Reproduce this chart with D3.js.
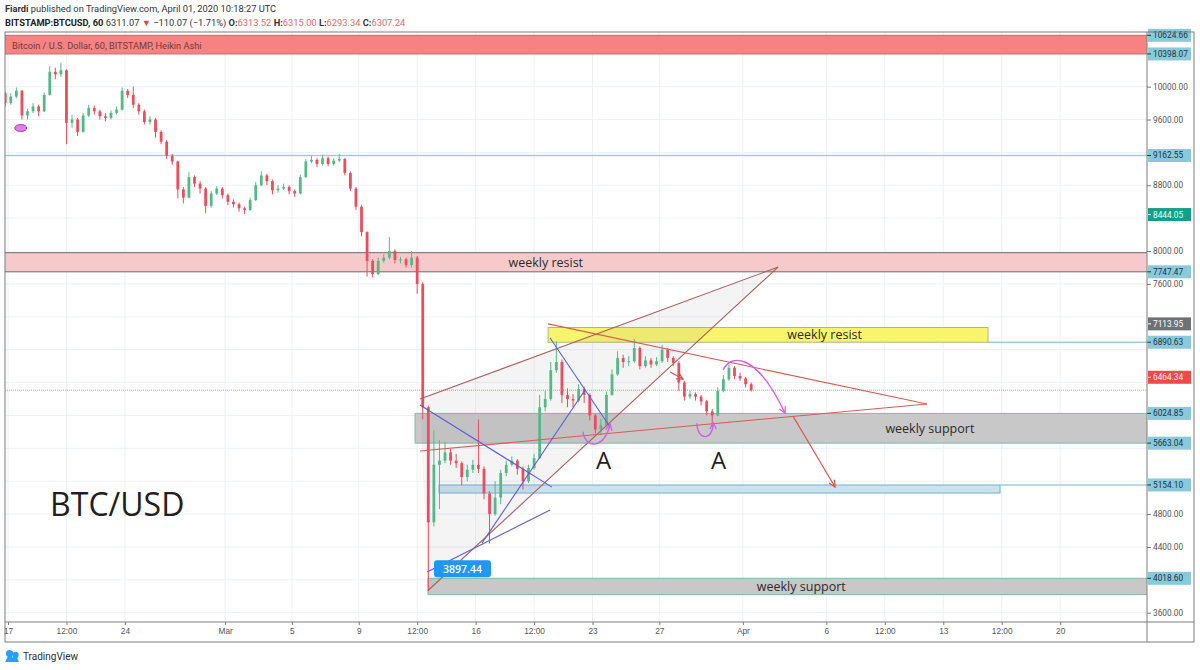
<!DOCTYPE html>
<html>
<head>
<meta charset="utf-8">
<script src="https://cdnjs.cloudflare.com/ajax/libs/d3/7.8.5/d3.min.js"></script>
<style>
  html, body { margin: 0; background: #fff; }
  svg { display: block; font-family: Roboto, "Noto Sans", sans-serif; }
</style>
</head>
<body>
<svg id="chart" width="1200" height="670"></svg>
<script>
// BTCUSD Heikin Ashi at 8h steps starting 2020-02-16 16:00 UTC
const firstOpen = 9920;
const closes = [
  9800, 9880, 9950, 9650, 9700, 9760, 9700, 9900, 10180, 10150,
  10200, 9560, 9600, 9450, 9650, 9740, 9700, 9640, 9620, 9680,
  9720, 9950, 9900, 9780, 9700, 9570, 9600, 9450, 9330, 9160,
  9090, 8750, 8650, 8900, 8820, 8760, 8550, 8700, 8760, 8680,
  8600, 8570, 8520, 8500, 8620, 8800, 8920, 8850, 8740, 8760,
  8780, 8730, 8700, 8900, 9090, 9110, 9060, 9130, 9060, 9100,
  9120, 8950, 8760, 8540, 8230, 7880, 7720, 7880, 7920, 8000,
  7890, 7900, 7830, 7920, 7600, 6100, 4700, 5400, 5450, 5550,
  5450, 5420, 5250, 5340, 5400, 5350, 5050, 4800, 5000, 5300,
  5400, 5450, 5350, 5200, 5360, 5480, 6100, 6200, 6550, 6650,
  6250, 6200, 6180, 6320, 6250, 6000, 5830, 5880, 6250, 6500,
  6700, 6650, 6660, 6820, 6600, 6670, 6620, 6660, 6800, 6700,
  6640, 6400, 6230, 6260, 6230, 6170, 6050, 6000, 6300, 6440,
  6580, 6480, 6450, 6380, 6307.24
];
const highs = [
  9940, 9920, 9990, 9960, 9730, 9800, 9780, 9930, 10250, 10230,
  10290, 10210, 9660, 9620, 9680, 9780, 9770, 9720, 9680, 9710,
  9760, 9990, 9970, 10000, 9800, 9720, 9640, 9620, 9470, 9350,
  9180, 9100, 8780, 8960, 8920, 8850, 8780, 8730, 8790, 8780,
  8700, 8630, 8590, 8540, 8650, 8840, 8970, 8940, 8870, 8800,
  8820, 8800, 8750, 8930, 9120, 9160, 9130, 9170, 9150, 9130,
  9180, 9130, 8970, 8780, 8560, 8240, 7900, 7920, 7960, 8170,
  8020, 7930, 7920, 8000, 7940, 7620, 6120, 5820, 5700, 5680,
  5600, 5530, 5440, 5400, 5460, 5950, 5380, 5080, 5200, 5340,
  5450, 5500, 5470, 5380, 5400, 5530, 6250, 6300, 6650, 6900,
  6680, 6330, 6260, 6380, 6350, 6270, 6020, 5960, 6290, 6560,
  6780, 6740, 6720, 6930, 6840, 6720, 6700, 6710, 6860, 6820,
  6720, 6660, 6420, 6300, 6280, 6250, 6190, 6080, 6340, 6490,
  6620, 6600, 6520, 6470, 6400
];
const lows = [
  9760, 9780, 9860, 9600, 9600, 9680, 9640, 9690, 9890, 10090,
  10120, 9300, 9500, 9400, 9440, 9630, 9660, 9600, 9580, 9600,
  9660, 9710, 9860, 9740, 9660, 9540, 9540, 9380, 9300, 9120,
  9050, 8640, 8580, 8640, 8780, 8700, 8460, 8530, 8680, 8640,
  8560, 8530, 8480, 8450, 8490, 8610, 8790, 8800, 8690, 8710,
  8740, 8690, 8660, 8690, 8890, 9070, 9020, 9040, 9030, 9040,
  9080, 8920, 8730, 8500, 8180, 7690, 7680, 7710, 7860, 7900,
  7850, 7850, 7800, 7800, 7480, 5950, 3860, 4650, 4860, 5420,
  5400, 5360, 5150, 5200, 5300, 5300, 4980, 4440, 4780, 4920,
  5260, 5380, 5280, 5100, 5180, 5340, 5470, 6050, 6180, 6520,
  6150, 6100, 6100, 6160, 6150, 5940, 5780, 5760, 5870, 6240,
  6480, 6580, 6600, 6640, 6560, 6580, 6580, 6600, 6640, 6650,
  6600, 6300, 6180, 6200, 6180, 6120, 6000, 5860, 5990, 6280,
  6420, 6440, 6420, 6340, 6290
];
const lastClose = 6307.24;

// drawings, times are days after 2020-02-17 00:00 UTC
const zones = [
  { from: -1,    to: 70,    top: 10624.66, bottom: 10398.07, kind: "red" },
  { from: -1,    to: 70,    top: 7980,     bottom: 7747.47,  kind: "pink",   label: "weekly resist",  labelAt: 32.2 },
  { from: 32.34, to: 58.68, top: 7070,     bottom: 6890.63,  kind: "yellow", label: "weekly resist",  labelAt: 48.9 },
  { from: 24.37, to: 70,    top: 6024.85,  bottom: 5663.04,  kind: "gray",   label: "weekly support", labelAt: 55.2 },
  { from: 25.81, to: 59.4,  top: 5154.10,  bottom: 5056,     kind: "blue" },
  { from: 25.15, to: 70,    top: 4018.60,  bottom: 3820,     kind: "gray",   label: "weekly support", labelAt: 47.5 }
];
const levelLines = [
  { price: 9162.55, from: -1 },
  { price: 6890.63, from: 58.68 },
  { price: 5154.10, from: 59.4 }
];
const wedge = [[24.67, 6200], [25.15, 3870], [46.11, 7805]];
const trendLines = [
  { kind: "brown", a: [24.67, 6200], b: [46.11, 7805] },
  { kind: "brown", a: [25.15, 3870], b: [46.11, 7805] },
  { kind: "red",   a: [32.34, 7114], b: [55.03, 6140] },
  { kind: "red",   a: [24.67, 5568], b: [55.03, 6140] },
  { kind: "blue",  a: [24.67, 6127], b: [32.57, 5128] },
  { kind: "blue",  a: [25.09, 4095], b: [32.46, 4850] },
  { kind: "blue",  a: [28.38, 4447], b: [34.55, 6310] },
  { kind: "blue",  a: [32.46, 6942], b: [36.05, 5860] }
];
const arrows = [
  { a: [47.0, 5993],  b: [49.52, 5130] },
  { a: [39.64, 6528], b: [40.42, 6443] }
];
const curves = [
  [[42.82, 6553], [43.23, 6736], [44.73, 6797], [46.53, 6026]],
  [[34.43, 5802], [34.55, 5590], [35.75, 5590], [36.05, 5896]],
  [[41.24, 5904], [41.3, 5687], [42.2, 5687], [42.23, 5912]]
];
const marker = { day: 0.76, price: 9497 };
const lowTag = { day: 25.15, price: 3897.44, text: "3897.44" };
const notes = [
  { text: "BTC/USD", day: 2.52, price: 4776, kind: "big" },
  { text: "A", day: 35.21, price: 5349, kind: "letter" },
  { text: "A", day: 42.1,  price: 5349, kind: "letter" }
];
const priceTags = [
  { price: 10624.66, kind: "level" },
  { price: 10398.07, kind: "level" },
  { price: 9162.55,  kind: "level" },
  { price: 8444.05,  kind: "green" },
  { price: 7747.47,  kind: "level" },
  { price: 7113.95,  kind: "gray" },
  { price: 6890.63,  kind: "level" },
  { price: 6464.34,  kind: "last" },
  { price: 6024.85,  kind: "level" },
  { price: 5663.04,  kind: "level" },
  { price: 5154.10,  kind: "level" },
  { price: 4018.60,  kind: "level" }
];
const priceTicks = d3.range(3600, 10800, 400);
const timeTicks = [
  [0, "17"], [3.5, "12:00"], [7, "24"], [13, "Mar"], [17, "5"], [21, "9"],
  [24.5, "12:00"], [28, "16"], [31.5, "12:00"], [35, "23"], [39, "27"],
  [44, "Apr"], [49, "6"], [52.5, "12:00"], [56, "13"], [59.5, "12:00"], [63, "20"]
];

const t0 = Date.UTC(2020, 1, 17);
const candleStart = Date.UTC(2020, 1, 16, 16);
const H8 = 8 * 3600e3;
function day(d) { return new Date(t0 + d * 864e5); }

const svg = d3.select("#chart");
const plot = { left: 5, right: 1147, top: 32, bottom: 622 };
const outer = { right: 1194, bottom: 642 };

const x = d3.scaleUtc().domain([day(-0.18), day(68.2)]).range([plot.left, plot.right]);
const y = d3.scaleLinear().domain([3487, 10665]).range([plot.bottom, plot.top]);
const px = p => x(day(p[0]));
const py = p => y(p[1]);

const zoneStyle = {
  red:    { fill: "#f78282", stroke: "#c56a6a" },
  pink:   { fill: "#f6caca", stroke: "#6d6d6d" },
  yellow: { fill: "#f8f56c", stroke: "#a9b98a" },
  gray:   { fill: "#c8c8c8", stroke: "#86b5b0" },
  blue:   { fill: "#c9e3ee", stroke: "#70b3ca" }
};
const lineColor = { brown: "#a95f5c", red: "#dc5a55", blue: "#5a60d2" };
const tagStyle = {
  level: { fill: "#88c9dc", text: "#1c3440" },
  green: { fill: "#13a08a", text: "#e9fffa" },
  gray:  { fill: "#6e7277", text: "#ffffff" },
  last:  { fill: "#ef4a4a", text: "#ffe9e9" }
};

const defs = svg.append("defs");
defs.append("clipPath").attr("id", "plotClip")
  .append("rect")
  .attr("x", plot.left).attr("y", plot.top)
  .attr("width", plot.right - plot.left).attr("height", plot.bottom - plot.top);

function addArrowHead(id, color) {
  defs.append("marker")
    .attr("id", id)
    .attr("viewBox", "0 0 10 10")
    .attr("refX", 9).attr("refY", 5)
    .attr("markerUnits", "userSpaceOnUse")
    .attr("markerWidth", 8).attr("markerHeight", 8)
    .attr("orient", "auto")
    .append("path")
    .attr("d", "M1,1 L9,5 L1,9")
    .attr("fill", "none")
    .attr("stroke", color)
    .attr("stroke-width", 1.6);
}
addArrowHead("headRed", "#d9534f");
addArrowHead("headPink", "#d35fe0");

svg.append("rect").attr("width", 1200).attr("height", 670).attr("fill", "#fff");

// Grid
const grid = svg.append("g").attr("clip-path", "url(#plotClip)");
grid.selectAll("line.v")
  .data(timeTicks)
  .join("line")
  .attr("x1", d => x(day(d[0]))).attr("x2", d => x(day(d[0])))
  .attr("y1", plot.top).attr("y2", plot.bottom)
  .attr("stroke", "#edf0f5");
grid.selectAll("line.h")
  .data(priceTicks)
  .join("line")
  .attr("x1", plot.left).attr("x2", plot.right)
  .attr("y1", d => y(d)).attr("y2", d => y(d))
  .attr("stroke", "#edf0f5");

const g = svg.append("g").attr("clip-path", "url(#plotClip)");

// Zones
g.selectAll("rect.zone")
  .data(zones)
  .join("rect")
  .attr("x", d => x(day(d.from)))
  .attr("y", d => y(d.top))
  .attr("width", d => x(day(d.to)) - x(day(d.from)))
  .attr("height", d => y(d.bottom) - y(d.top))
  .attr("fill", d => zoneStyle[d.kind].fill)
  .attr("stroke", d => zoneStyle[d.kind].stroke)
  .attr("stroke-width", 1);

// Horizontal rays
g.selectAll("line.level")
  .data(levelLines)
  .join("line")
  .attr("x1", d => x(day(d.from))).attr("x2", plot.right)
  .attr("y1", d => y(d.price)).attr("y2", d => y(d.price))
  .attr("stroke", "#9ccfdd")
  .attr("stroke-width", 1.5);

// last price line
g.append("line")
  .attr("x1", plot.left).attr("x2", plot.right)
  .attr("y1", y(lastClose)).attr("y2", y(lastClose))
  .attr("stroke", "#ec8a8a")
  .attr("stroke-dasharray", "1,1");

// Wedge shading
g.append("polygon")
  .attr("points", wedge.map(p => px(p) + "," + py(p)).join(" "))
  .attr("fill", "rgba(130,130,140,0.09)");

// Candles
const candles = closes.map((c, i) => ({
  t: candleStart + i * H8,
  o: i ? closes[i - 1] : firstOpen,
  c: c, h: highs[i], l: lows[i]
}));
const step = x(new Date(candleStart + H8)) - x(new Date(candleStart));
const bodyW = step * 0.5;
const upColor = "#53b987", downColor = "#eb4d5c";
const cg = g.append("g");
cg.selectAll("line.wick")
  .data(candles)
  .join("line")
  .attr("x1", d => x(new Date(d.t + H8 / 2)))
  .attr("x2", d => x(new Date(d.t + H8 / 2)))
  .attr("y1", d => y(d.h)).attr("y2", d => y(d.l))
  .attr("stroke", d => d.c >= d.o ? upColor : downColor)
  .attr("stroke-width", 1);
cg.selectAll("rect.body")
  .data(candles)
  .join("rect")
  .attr("x", d => x(new Date(d.t + H8 / 2)) - bodyW / 2)
  .attr("width", bodyW)
  .attr("y", d => y(Math.max(d.o, d.c)))
  .attr("height", d => Math.max(1, Math.abs(y(d.o) - y(d.c))))
  .attr("fill", d => d.c >= d.o ? upColor : downColor);

// Trend lines
g.selectAll("line.trend")
  .data(trendLines)
  .join("line")
  .attr("x1", d => px(d.a)).attr("y1", d => py(d.a))
  .attr("x2", d => px(d.b)).attr("y2", d => py(d.b))
  .attr("stroke", d => lineColor[d.kind])
  .attr("stroke-width", 1.1);

// Arrows
g.selectAll("line.arrow")
  .data(arrows)
  .join("line")
  .attr("x1", d => px(d.a)).attr("y1", d => py(d.a))
  .attr("x2", d => px(d.b)).attr("y2", d => py(d.b))
  .attr("stroke", "#d9534f")
  .attr("stroke-width", 1.2)
  .attr("marker-end", "url(#headRed)");

// Curved projections
g.selectAll("path.curve")
  .data(curves)
  .join("path")
  .attr("d", d => {
    const p = d3.path();
    p.moveTo(px(d[0]), py(d[0]));
    p.bezierCurveTo(px(d[1]), py(d[1]), px(d[2]), py(d[2]), px(d[3]), py(d[3]));
    return p.toString();
  })
  .attr("fill", "none")
  .attr("stroke", "#d35fe0")
  .attr("stroke-width", 1.4)
  .attr("marker-end", "url(#headPink)");

// Marker ellipse
g.append("ellipse")
  .attr("cx", x(day(marker.day))).attr("cy", y(marker.price))
  .attr("rx", 6).attr("ry", 3.5)
  .attr("fill", "#e27ee8").attr("stroke", "#a33bb5").attr("stroke-width", 1);

// Zone labels
g.selectAll("text.zone")
  .data(zones.filter(d => d.label))
  .join("text")
  .attr("x", d => x(day(d.labelAt)))
  .attr("y", d => (y(d.top) + y(d.bottom)) / 2 + 4.5)
  .attr("text-anchor", "middle")
  .attr("font-family", "'Open Sans', 'Noto Sans', sans-serif")
  .attr("font-size", 12.5)
  .attr("fill", "#2b2b2b")
  .text(d => d.label);

// Low label
const ax = x(day(lowTag.day)), ay = y(lowTag.price);
g.append("rect")
  .attr("x", ax + 6).attr("y", ay - 28)
  .attr("width", 57).attr("height", 17).attr("rx", 3)
  .attr("fill", "#2196f3");
g.append("text")
  .attr("x", ax + 34.5).attr("y", ay - 15.5)
  .attr("text-anchor", "middle")
  .attr("font-family", "'Open Sans', 'Noto Sans', sans-serif")
  .attr("font-size", 10.5)
  .attr("font-weight", 600)
  .attr("fill", "#fff")
  .text(lowTag.text);

// Notes
g.selectAll("text.note")
  .data(notes)
  .join("text")
  .attr("x", d => x(day(d.day)))
  .attr("y", d => y(d.price))
  .attr("font-family", "'Open Sans', 'Noto Sans', sans-serif")
  .attr("font-size", d => d.kind === "big" ? 32 : 24)
  .attr("fill", "#1f1f1f")
  .text(d => d.text);

// Legend inside the top red zone
svg.append("text")
  .attr("x", 12).attr("y", 49)
  .attr("font-size", 9.2)
  .attr("fill", "#6e3b3b")
  .text("Bitcoin / U.S. Dollar, 60, BITSTAMP, Heikin Ashi");

// Price axis: tick labels hidden where a price tag covers them
const covered = v => priceTags.some(t => Math.abs(y(t.price) - y(v)) < 12);
const yAxis = svg.append("g")
  .attr("transform", "translate(" + plot.right + ",0)")
  .call(d3.axisRight(y)
    .tickValues(priceTicks.filter(v => !covered(v)))
    .tickSize(4).tickPadding(2)
    .tickFormat(d3.format(".2f")));
yAxis.select(".domain").remove();
yAxis.selectAll("line").attr("stroke", "#777");
yAxis.selectAll("text").attr("font-size", 8.3).attr("fill", "#555").attr("font-family", "Roboto, sans-serif");

// Price tags
const tags = svg.append("g").selectAll("g")
  .data(priceTags)
  .join("g")
  .attr("transform", d => "translate(" + plot.right + "," + y(d.price) + ")");
tags.append("rect")
  .attr("x", 1).attr("y", -6.5)
  .attr("width", 43).attr("height", 13)
  .attr("fill", d => tagStyle[d.kind].fill);
tags.append("line")
  .attr("x1", 0).attr("x2", 4)
  .attr("stroke", d => tagStyle[d.kind].text);
tags.append("text")
  .attr("x", 6).attr("y", 3)
  .attr("font-size", 8.3)
  .attr("fill", d => tagStyle[d.kind].text)
  .text(d => d3.format(".2f")(d.price));

// Time axis
const xAxis = svg.append("g")
  .attr("transform", "translate(0," + plot.bottom + ")")
  .call(d3.axisBottom(x)
    .tickValues(timeTicks.map(t => day(t[0])))
    .tickFormat((d, i) => timeTicks[i][1])
    .tickSize(3).tickPadding(3));
xAxis.select(".domain").remove();
xAxis.selectAll("line").attr("stroke", "#777");
xAxis.selectAll("text").attr("font-size", 8.3).attr("fill", "#555");

// Frame
const frame = svg.append("g").attr("stroke", "#7d7d7d").attr("fill", "none");
frame.append("rect")
  .attr("x", plot.left).attr("y", plot.top)
  .attr("width", outer.right - plot.left).attr("height", outer.bottom - plot.top);
frame.append("line").attr("x1", plot.right).attr("x2", plot.right).attr("y1", plot.top).attr("y2", outer.bottom);
frame.append("line").attr("x1", plot.left).attr("x2", outer.right).attr("y1", plot.bottom).attr("y2", plot.bottom);

// Header
const h1 = svg.append("text").attr("x", 5).attr("y", 12).attr("font-size", 9.3).attr("fill", "#333");
h1.append("tspan").attr("font-weight", 700).text("Fiardi");
h1.append("tspan").text(" published on TradingView.com, April 01, 2020 10:18:27 UTC");

const h2 = svg.append("text").attr("x", 5).attr("y", 26).attr("font-size", 9.3).attr("fill", "#333");
const red = "#e36a6a";
[
  ["BITSTAMP:BTCUSD, 60", 700, "#222"],
  [" 6311.07 ", 400, "#333"],
  ["\u25BC", 400, "#e04848"],
  [" \u2212110.07 (\u22121.71%) ", 400, "#333"],
  ["O:", 700, "#333"], ["6313.52", 400, red],
  [" H:", 700, "#333"], ["6315.00", 400, red],
  [" L:", 700, "#333"], ["6293.34", 400, red],
  [" C:", 700, "#333"], ["6307.24", 400, red]
].forEach(s => h2.append("tspan").attr("font-weight", s[1]).attr("fill", s[2]).text(s[0]));

// Footer logo
const logo = svg.append("g").attr("transform", "translate(4,649)");
logo.append("path")
  .attr("d", "M1,13 L5.5,4 L9,9 L11.5,5 L15,13 Z")
  .attr("fill", "#2e9ef4");
logo.append("circle").attr("cx", 5.5).attr("cy", 4.5).attr("r", 3.6).attr("fill", "#2e9ef4");
logo.append("circle").attr("cx", 11.5).attr("cy", 6).attr("r", 3.2).attr("fill", "#2e9ef4");
svg.append("text")
  .attr("x", 23).attr("y", 660)
  .attr("font-size", 10).attr("fill", "#2f2f2f")
  .text("TradingView");
</script>
</body>
</html>
